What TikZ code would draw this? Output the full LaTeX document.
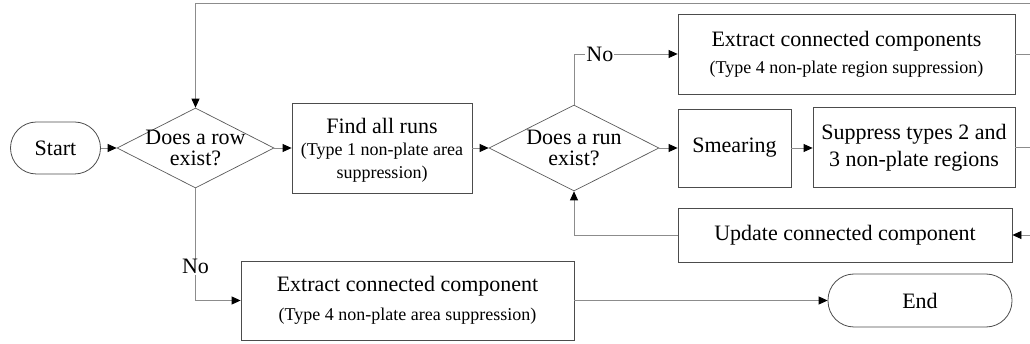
\documentclass[tikz,border=0pt]{standalone}
\usepackage{fontspec}
\setmainfont{Liberation Serif}
\usetikzlibrary{shapes.geometric,arrows.meta}
\begin{document}
\begin{tikzpicture}[x=1pt,y=-1pt,
  box/.style={draw=black!70, line width=0.8pt, rectangle, inner sep=0pt, align=center, font=\fontsize{22}{27}\selectfont},
  term/.style={box, rounded corners=26pt},
  dec/.style={draw=black!65, line width=0.7pt, diamond, inner sep=0pt},
  conn/.style={draw=black!45, line width=0.8pt},
  arr/.style={conn, -{Triangle[length=9pt,width=8pt,color=black]}},
  lbl/.style={fill=white, inner sep=1pt, font=\fontsize{22}{22}\selectfont}]
\useasboundingbox (0,0) rectangle (1030,344);

\node[term, minimum width=90pt, minimum height=52pt] (start) at (55.5,148) {Start};
\node[dec, minimum width=157pt, minimum height=80pt,
  label={[align=center,font=\fontsize{22}{21}\selectfont]center:Does a row\\exist?}] (d1) at (195.5,148) {};
\node[box, minimum width=180pt, minimum height=90pt,
  label={[align=center,font=\fontsize{22}{26}\selectfont,yshift=-2pt]center:Find all runs\\[-4pt]{\fontsize{18}{23}\selectfont (Type 1 non-plate area}\\[-3pt]{\fontsize{18}{23}\selectfont suppression)}}] (fr) at (382,148) {};
\node[dec, minimum width=170pt, minimum height=86pt,
  label={[align=center,font=\fontsize{22}{21}\selectfont]center:Does a run\\exist?}] (d2) at (574,148) {};
\node[box, minimum width=113pt, minimum height=78pt] (sm) at (734.5,148) {Smearing};
\node[box, minimum width=202pt, minimum height=80pt] (sup) at (914,147.5) {Suppress types 2 and\\3 non-plate regions};
\node[box, minimum width=337pt, minimum height=80pt] (ec) at (846.5,54)
  {Extract connected components\\{\fontsize{18}{23}\selectfont (Type 4 non-plate region suppression)}};
\node[box, minimum width=334pt, minimum height=54pt] (up) at (845,235) {Update connected component};
\node[box, minimum width=333pt, minimum height=79pt] (bb) at (407.5,300.5)
  {Extract connected component\\[2pt]{\fontsize{18}{23}\selectfont (Type 4 non-plate area suppression)}};
\node[term, minimum width=184pt, minimum height=53pt] (end) at (920,300.5) {End};

\coordinate (rt) at (1031,3);
\coordinate (rb) at (1031,235);

\draw[arr] (start) -- (d1);
\draw[arr] (d1) -- (fr);
\draw[arr] (fr) -- (d2);
\draw[arr] (d2) -- (sm);
\draw[arr] (sm) -- (sm -| sup.west);
\draw[arr] (d2.north) |- node[lbl, pos=0.625]{No} (ec.west);
\draw[conn] (ec.east) -- (ec.east -| rt);
\draw[conn] (sup.east) -- (sup.east -| rt);
\draw[conn] (rt) -- (rb);
\draw[arr] (rb) -- (up.east);
\draw[arr] (up.west) -| (d2.south);
\draw[arr] (rt) -| (d1.north);
\draw[arr] (d1.south) |- node[lbl, pos=0.35]{No} (bb.west);
\draw[arr] (bb) -- (end);
\end{tikzpicture}
\end{document}
